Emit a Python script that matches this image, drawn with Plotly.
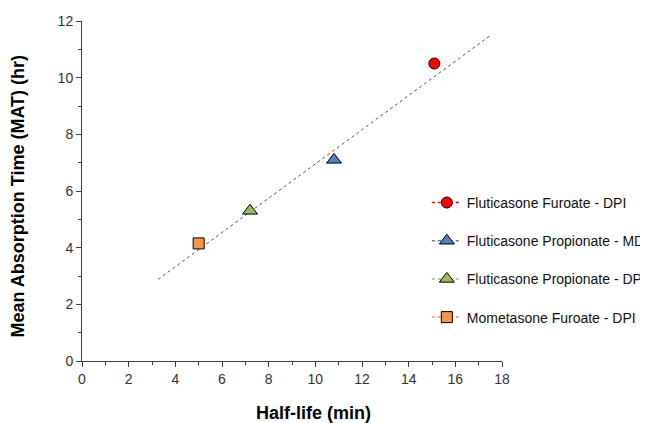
import plotly.graph_objects as go

# Data
series_names = ["Fluticasone Furoate - DPI", "Fluticasone Propionate - MDI",
                "Fluticasone Propionate - DPI", "Mometasone Furoate - DPI"]
half_life = [15.1, 10.8, 7.2, 5.0]          # min
mat = [10.5, 7.1, 5.3, 4.15]               # hr
colors = ["#FF0000", "#4F81BD", "#9BBB59", "#F79646"]
symbols = ["circle", "triangle-up", "triangle-up", "square"]
sizes = [11, 13, 13, 11]

# Trend line end points
trend_x = [3.26, 17.57]
trend_y = [2.88, 11.53]

x_ticks = list(range(0, 19, 2))
y_ticks = list(range(0, 13, 2))

FONT = "Liberation Sans, Arial, sans-serif"

fig = go.Figure()

fig.add_trace(go.Scatter(
    x=trend_x, y=trend_y, mode="lines",
    line=dict(color="#555555", width=1, dash="dot"),
    showlegend=False, hoverinfo="skip"))

for name, xv, yv, c, s, sz in zip(series_names, half_life, mat, colors, symbols, sizes):
    fig.add_trace(go.Scatter(
        x=[xv], y=[yv], name=name, mode="lines+markers",
        legendgroup=name,
        line=dict(color=c, width=1.5, dash="dot"),
        marker=dict(color=c, symbol=s, size=sz, line=dict(color="#000000", width=1)),
    ))

axis_common = dict(
    showgrid=False, zeroline=False, showline=True, linecolor="#404040", linewidth=1,
    ticks="outside", ticklen=5, tickcolor="#404040", tickwidth=1,
    tickfont=dict(family=FONT, size=14, color="#333333"),
    minor=dict(dtick=1, ticks="outside", ticklen=3, tickcolor="#404040", tickwidth=1),
)

fig.update_xaxes(range=[0, 18], tickvals=x_ticks, ticktext=[str(v) for v in x_ticks],
                 **axis_common)
fig.update_yaxes(range=[0, 12], tickvals=y_ticks, ticktext=[str(v) for v in y_ticks],
                 **axis_common)

fig.add_annotation(text="<b>Half-life (min)</b>", xref="paper", yref="paper",
                   x=0.55, y=-0.153, xanchor="center", yanchor="middle", showarrow=False,
                   font=dict(family=FONT, size=18, color="#000000"))
fig.add_annotation(text="<b>Mean Absorption Time (MAT) (hr)</b>", xref="paper", yref="paper",
                   x=-0.152, y=0.484, xanchor="center", yanchor="middle", showarrow=False,
                   textangle=-90, font=dict(family=FONT, size=18, color="#000000"))

fig.update_layout(
    width=640, height=415,
    margin=dict(l=74, r=146, t=13, b=62, autoexpand=False),
    plot_bgcolor="white", paper_bgcolor="white",
    font=dict(family=FONT, size=13, color="#000000"),
    legend=dict(x=0.821, y=0.512, xanchor="left", yanchor="top",
                font=dict(family=FONT, size=14, color="#111111"),
                traceorder="grouped", tracegroupgap=17,
                bgcolor="rgba(0,0,0,0)"),
)

fig.write_html("out.html")
